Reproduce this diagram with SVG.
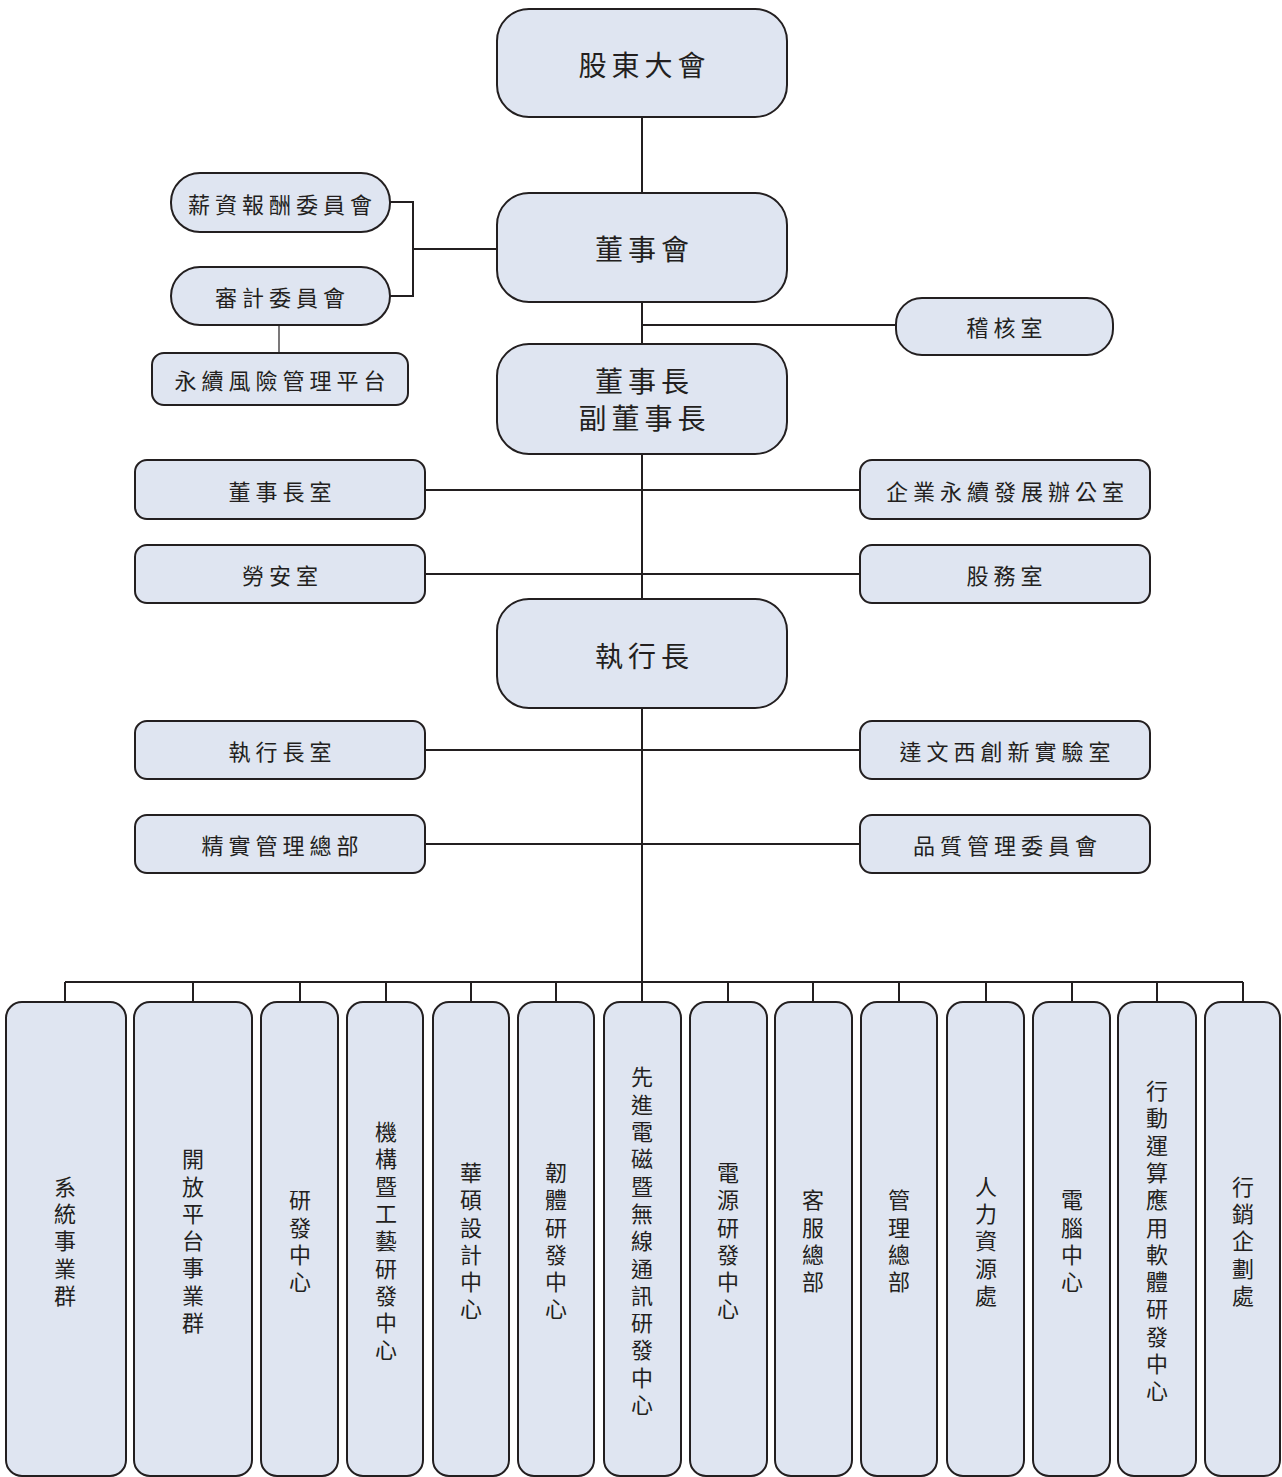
<svg xmlns="http://www.w3.org/2000/svg" width="1282" height="1477" viewBox="0 0 1282 1477">
<style>
.bx{fill:#DFE5F1;stroke:#231F20;stroke-width:2}
.ln{stroke:#231F20;stroke-width:2;fill:none}
.thin{stroke:#231F20;stroke-width:1.2;fill:none}
text{font-family:"Noto Sans CJK TC","Noto Sans CJK SC",sans-serif;fill:#231F20;text-anchor:middle;dominant-baseline:central}
.big{font-size:28px;letter-spacing:5px}
.mid{font-size:22px;letter-spacing:5px}
.v{font-size:22px;letter-spacing:5.3px;writing-mode:vertical-rl}
</style>
<rect width="1282" height="1477" fill="#fff"/>
<g id="connectors">
<path class="ln" d="M642 117V193M642 302V344M642 325H896M642 454V599M642 708V982"/>
<path class="ln" d="M390 202H413V296H390M413 249H496"/>
<path class="thin" d="M279 325V353"/>
<path class="ln" d="M425 490H860M425 574H860M425 750H860M425 844H860"/>
<path class="ln" d="M65 982H1243M65 982V1002M193 982V1002M300 982V1002M386 982V1002M471 982V1002M556 982V1002M642 982V1002M728 982V1002M813 982V1002M899 982V1002M986 982V1002M1072 982V1002M1157 982V1002M1243 982V1002"/>
</g>
<g id="n-gudong"><rect class="bx" x="497" y="9" width="290" height="108" rx="32"/><text class="big" x="644.5" y="64">股東大會</text></g>
<g id="n-dongshihui"><rect class="bx" x="497" y="193" width="290" height="109" rx="32"/><text class="big" x="644.5" y="248">董事會</text></g>
<g id="n-xinzi"><rect class="bx" x="171" y="173" width="219" height="59" rx="29"/><text class="mid" x="282.5" y="203">薪資報酬委員會</text></g>
<g id="n-shenji"><rect class="bx" x="171" y="267" width="219" height="58" rx="29"/><text class="mid" x="282.5" y="296">審計委員會</text></g>
<g id="n-yongxu"><rect class="bx" x="152" y="353" width="256" height="52" rx="12"/><text class="mid" x="282.5" y="379">永續風險管理平台</text></g>
<g id="n-jihe"><rect class="bx" x="896" y="298" width="217" height="57" rx="26"/><text class="mid" x="1007" y="326">稽核室</text></g>
<g id="n-dongshizhang"><rect class="bx" x="497" y="344" width="290" height="110" rx="32"/><text class="big" x="644.5" y="380">董事長</text><text class="big" x="644.5" y="417">副董事長</text></g>
<g id="n-dszs"><rect class="bx" x="135" y="460" width="290" height="59" rx="12"/><text class="mid" x="282.5" y="490">董事長室</text></g>
<g id="n-esg"><rect class="bx" x="860" y="460" width="290" height="59" rx="12"/><text class="mid" x="1007.5" y="490">企業永續發展辦公室</text></g>
<g id="n-laoan"><rect class="bx" x="135" y="545" width="290" height="58" rx="12"/><text class="mid" x="282.5" y="574">勞安室</text></g>
<g id="n-guwu"><rect class="bx" x="860" y="545" width="290" height="58" rx="12"/><text class="mid" x="1007" y="574">股務室</text></g>
<g id="n-ceo"><rect class="bx" x="497" y="599" width="290" height="109" rx="32"/><text class="big" x="644.5" y="655">執行長</text></g>
<g id="n-ceooffice"><rect class="bx" x="135" y="721" width="290" height="58" rx="12"/><text class="mid" x="282.5" y="750">執行長室</text></g>
<g id="n-davinci"><rect class="bx" x="860" y="721" width="290" height="58" rx="12"/><text class="mid" x="1007.5" y="750">達文西創新實驗室</text></g>
<g id="n-lean"><rect class="bx" x="135" y="815" width="290" height="58" rx="12"/><text class="mid" x="282.5" y="844">精實管理總部</text></g>
<g id="n-quality"><rect class="bx" x="860" y="815" width="290" height="58" rx="12"/><text class="mid" x="1007.5" y="844">品質管理委員會</text></g>
<g id="n-b1"><rect class="bx" x="6" y="1002" width="120" height="474" rx="16"/><text class="v" x="65" y="1243.5">系統事業群</text></g>
<g id="n-b2"><rect class="bx" x="134" y="1002" width="118" height="474" rx="16"/><text class="v" x="193" y="1243.5">開放平台事業群</text></g>
<g id="n-b3"><rect class="bx" x="261" y="1002" width="77" height="474" rx="16"/><text class="v" x="300" y="1243.5">研發中心</text></g>
<g id="n-b4"><rect class="bx" x="347" y="1002" width="76" height="474" rx="16"/><text class="v" x="386" y="1243.5">機構暨工藝研發中心</text></g>
<g id="n-b5"><rect class="bx" x="433" y="1002" width="76" height="474" rx="16"/><text class="v" x="471" y="1243.5">華碩設計中心</text></g>
<g id="n-b6"><rect class="bx" x="518" y="1002" width="76" height="474" rx="16"/><text class="v" x="556" y="1243.5">韌體研發中心</text></g>
<g id="n-b7"><rect class="bx" x="604" y="1002" width="77" height="474" rx="16"/><text class="v" x="642" y="1243.5">先進電磁暨無線通訊研發中心</text></g>
<g id="n-b8"><rect class="bx" x="690" y="1002" width="77" height="474" rx="16"/><text class="v" x="728" y="1243.5">電源研發中心</text></g>
<g id="n-b9"><rect class="bx" x="775" y="1002" width="77" height="474" rx="16"/><text class="v" x="813" y="1243.5">客服總部</text></g>
<g id="n-b10"><rect class="bx" x="861" y="1002" width="76" height="474" rx="16"/><text class="v" x="899" y="1243.5">管理總部</text></g>
<g id="n-b11"><rect class="bx" x="947" y="1002" width="77" height="474" rx="16"/><text class="v" x="986" y="1243.5">人力資源處</text></g>
<g id="n-b12"><rect class="bx" x="1033" y="1002" width="77" height="474" rx="16"/><text class="v" x="1072" y="1243.5">電腦中心</text></g>
<g id="n-b13"><rect class="bx" x="1118" y="1002" width="78" height="474" rx="16"/><text class="v" x="1157" y="1243.5">行動運算應用軟體研發中心</text></g>
<g id="n-b14"><rect class="bx" x="1205" y="1002" width="75" height="474" rx="16"/><text class="v" x="1243" y="1243.5">行銷企劃處</text></g>
</svg>
